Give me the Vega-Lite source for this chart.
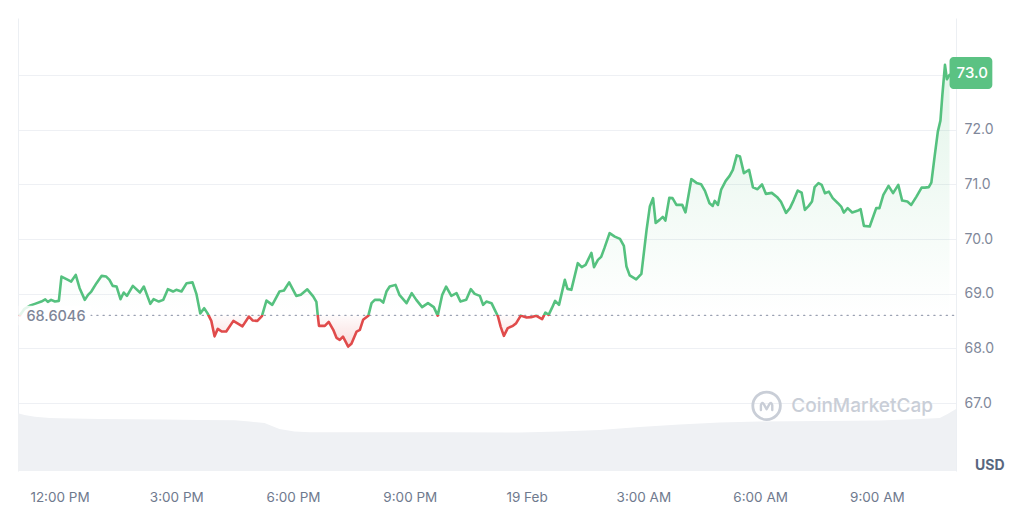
{
"$schema":"https://vega.github.io/schema/vega-lite/v6.json",
"width":938,"height":453,
"autosize":{"type":"none"},
"padding":{"left":18,"top":18,"right":68,"bottom":50},
"background":"white",
"config":{"view":{"stroke":null},"font":"Inter"},
"datasets":{
"price":[
{"t":"2024-02-18T10:59","p":68.605},{"t":"2024-02-18T11:06","p":68.724},{"t":"2024-02-18T11:14","p":68.779},{"t":"2024-02-18T11:22","p":68.815},{"t":"2024-02-18T11:32","p":68.857},{"t":"2024-02-18T11:38","p":68.897},{"t":"2024-02-18T11:42","p":68.852},{"t":"2024-02-18T11:47","p":68.888},{"t":"2024-02-18T11:53","p":68.857},{"t":"2024-02-18T11:59","p":68.870},
{"t":"2024-02-18T12:03","p":69.314},{"t":"2024-02-18T12:13","p":69.254},{"t":"2024-02-18T12:18","p":69.223},{"t":"2024-02-18T12:25","p":69.345},{"t":"2024-02-18T12:31","p":69.102},{"t":"2024-02-18T12:39","p":68.888},{"t":"2024-02-18T12:44","p":68.980},{"t":"2024-02-18T12:49","p":69.040},{"t":"2024-02-18T12:57","p":69.193},{"t":"2024-02-18T13:05","p":69.327},
{"t":"2024-02-18T13:12","p":69.314},{"t":"2024-02-18T13:17","p":69.254},{"t":"2024-02-18T13:22","p":69.144},{"t":"2024-02-18T13:28","p":69.131},{"t":"2024-02-18T13:34","p":68.901},{"t":"2024-02-18T13:39","p":69.022},{"t":"2024-02-18T13:44","p":68.961},{"t":"2024-02-18T13:53","p":69.144},{"t":"2024-02-18T14:04","p":69.022},{"t":"2024-02-18T14:10","p":69.131},
{"t":"2024-02-18T14:20","p":68.815},{"t":"2024-02-18T14:25","p":68.901},{"t":"2024-02-18T14:33","p":68.857},{"t":"2024-02-18T14:40","p":68.888},{"t":"2024-02-18T14:47","p":69.084},{"t":"2024-02-18T14:55","p":69.040},{"t":"2024-02-18T15:00","p":69.071},{"t":"2024-02-18T15:08","p":69.040},{"t":"2024-02-18T15:16","p":69.193},{"t":"2024-02-18T15:25","p":69.208},
{"t":"2024-02-18T15:31","p":68.998},{"t":"2024-02-18T15:37","p":68.641},{"t":"2024-02-18T15:43","p":68.736},{"t":"2024-02-18T15:48","p":68.645},{"t":"2024-02-18T15:54","p":68.504},{"t":"2024-02-18T15:59","p":68.221},{"t":"2024-02-18T16:04","p":68.358},{"t":"2024-02-18T16:10","p":68.309},{"t":"2024-02-18T16:17","p":68.309},{"t":"2024-02-18T16:28","p":68.504},
{"t":"2024-02-18T16:42","p":68.404},{"t":"2024-02-18T16:52","p":68.583},{"t":"2024-02-18T16:58","p":68.510},{"t":"2024-02-18T17:05","p":68.504},{"t":"2024-02-18T17:12","p":68.590},{"t":"2024-02-18T17:19","p":68.875},{"t":"2024-02-18T17:28","p":68.797},{"t":"2024-02-18T17:39","p":69.040},{"t":"2024-02-18T17:46","p":69.058},{"t":"2024-02-18T17:54","p":69.208},
{"t":"2024-02-18T18:05","p":68.961},{"t":"2024-02-18T18:12","p":68.980},{"t":"2024-02-18T18:22","p":69.080},{"t":"2024-02-18T18:31","p":68.952},{"t":"2024-02-18T18:36","p":68.852},{"t":"2024-02-18T18:38","p":68.614},{"t":"2024-02-18T18:40","p":68.413},{"t":"2024-02-18T18:49","p":68.413},{"t":"2024-02-18T18:55","p":68.486},{"t":"2024-02-18T19:02","p":68.340},
{"t":"2024-02-18T19:07","p":68.194},{"t":"2024-02-18T19:12","p":68.157},{"t":"2024-02-18T19:17","p":68.217},{"t":"2024-02-18T19:25","p":68.035},{"t":"2024-02-18T19:30","p":68.084},{"t":"2024-02-18T19:38","p":68.309},{"t":"2024-02-18T19:43","p":68.340},{"t":"2024-02-18T19:48","p":68.523},{"t":"2024-02-18T19:56","p":68.596},{"t":"2024-02-18T20:01","p":68.828},
{"t":"2024-02-18T20:06","p":68.888},{"t":"2024-02-18T20:14","p":68.888},{"t":"2024-02-18T20:19","p":68.839},{"t":"2024-02-18T20:24","p":69.040},{"t":"2024-02-18T20:29","p":69.131},{"t":"2024-02-18T20:38","p":69.162},{"t":"2024-02-18T20:44","p":68.980},{"t":"2024-02-18T20:55","p":68.828},{"t":"2024-02-18T21:03","p":69.011},{"t":"2024-02-18T21:10","p":68.888},
{"t":"2024-02-18T21:19","p":68.755},{"t":"2024-02-18T21:28","p":68.828},{"t":"2024-02-18T21:37","p":68.755},{"t":"2024-02-18T21:43","p":68.600},{"t":"2024-02-18T21:50","p":68.980},{"t":"2024-02-18T21:56","p":69.131},{"t":"2024-02-18T22:04","p":68.961},{"t":"2024-02-18T22:12","p":69.011},{"t":"2024-02-18T22:18","p":68.857},{"t":"2024-02-18T22:27","p":68.888},
{"t":"2024-02-18T22:34","p":69.084},{"t":"2024-02-18T22:40","p":68.998},{"t":"2024-02-18T22:48","p":68.961},{"t":"2024-02-18T22:53","p":68.797},{"t":"2024-02-18T22:58","p":68.857},{"t":"2024-02-18T23:06","p":68.828},{"t":"2024-02-18T23:11","p":68.705},{"t":"2024-02-18T23:16","p":68.583},{"t":"2024-02-18T23:20","p":68.400},{"t":"2024-02-18T23:25","p":68.230},
{"t":"2024-02-18T23:31","p":68.371},{"t":"2024-02-18T23:39","p":68.413},{"t":"2024-02-18T23:44","p":68.462},{"t":"2024-02-18T23:51","p":68.600},{"t":"2024-02-19T00:00","p":68.565},{"t":"2024-02-19T00:07","p":68.572},{"t":"2024-02-19T00:15","p":68.596},{"t":"2024-02-19T00:24","p":68.535},{"t":"2024-02-19T00:29","p":68.656},{"t":"2024-02-19T00:34","p":68.614},
{"t":"2024-02-19T00:39","p":68.736},{"t":"2024-02-19T00:44","p":68.870},{"t":"2024-02-19T00:50","p":68.797},{"t":"2024-02-19T00:59","p":69.254},{"t":"2024-02-19T01:03","p":69.089},{"t":"2024-02-19T01:09","p":69.071},{"t":"2024-02-19T01:19","p":69.559},{"t":"2024-02-19T01:25","p":69.486},{"t":"2024-02-19T01:31","p":69.528},{"t":"2024-02-19T01:40","p":69.747},
{"t":"2024-02-19T01:44","p":69.486},{"t":"2024-02-19T01:50","p":69.619},{"t":"2024-02-19T01:55","p":69.674},{"t":"2024-02-19T02:00","p":69.833},{"t":"2024-02-19T02:08","p":70.107},{"t":"2024-02-19T02:16","p":70.045},{"t":"2024-02-19T02:24","p":70.003},{"t":"2024-02-19T02:30","p":69.875},{"t":"2024-02-19T02:34","p":69.497},{"t":"2024-02-19T02:39","p":69.336},
{"t":"2024-02-19T02:49","p":69.263},{"t":"2024-02-19T02:57","p":69.363},{"t":"2024-02-19T03:05","p":70.167},{"t":"2024-02-19T03:10","p":70.593},{"t":"2024-02-19T03:15","p":70.747},{"t":"2024-02-19T03:19","p":70.295},{"t":"2024-02-19T03:25","p":70.350},{"t":"2024-02-19T03:30","p":70.405},{"t":"2024-02-19T03:34","p":70.337},{"t":"2024-02-19T03:40","p":70.752},
{"t":"2024-02-19T03:45","p":70.747},{"t":"2024-02-19T03:51","p":70.624},{"t":"2024-02-19T04:00","p":70.624},{"t":"2024-02-19T04:05","p":70.487},{"t":"2024-02-19T04:14","p":71.094},{"t":"2024-02-19T04:22","p":71.026},{"t":"2024-02-19T04:29","p":71.003},{"t":"2024-02-19T04:35","p":70.880},{"t":"2024-02-19T04:42","p":70.655},{"t":"2024-02-19T04:47","p":70.606},
{"t":"2024-02-19T04:50","p":70.697},{"t":"2024-02-19T04:55","p":70.624},{"t":"2024-02-19T05:00","p":70.904},{"t":"2024-02-19T05:07","p":71.063},{"t":"2024-02-19T05:13","p":71.154},{"t":"2024-02-19T05:18","p":71.264},{"t":"2024-02-19T05:24","p":71.529},{"t":"2024-02-19T05:29","p":71.507},{"t":"2024-02-19T05:35","p":71.204},{"t":"2024-02-19T05:43","p":71.264},
{"t":"2024-02-19T05:49","p":70.944},{"t":"2024-02-19T05:56","p":70.911},{"t":"2024-02-19T06:03","p":70.997},{"t":"2024-02-19T06:09","p":70.825},{"t":"2024-02-19T06:18","p":70.844},{"t":"2024-02-19T06:26","p":70.770},{"t":"2024-02-19T06:32","p":70.685},{"t":"2024-02-19T06:40","p":70.478},{"t":"2024-02-19T06:46","p":70.564},{"t":"2024-02-19T06:52","p":70.716},
{"t":"2024-02-19T06:58","p":70.886},{"t":"2024-02-19T07:04","p":70.849},{"t":"2024-02-19T07:09","p":70.533},{"t":"2024-02-19T07:15","p":70.606},{"t":"2024-02-19T07:20","p":70.685},{"t":"2024-02-19T07:24","p":70.948},{"t":"2024-02-19T07:30","p":71.021},{"t":"2024-02-19T07:35","p":70.990},{"t":"2024-02-19T07:40","p":70.838},{"t":"2024-02-19T07:46","p":70.867},
{"t":"2024-02-19T07:52","p":70.747},{"t":"2024-02-19T08:00","p":70.655},{"t":"2024-02-19T08:05","p":70.593},{"t":"2024-02-19T08:09","p":70.484},{"t":"2024-02-19T08:15","p":70.564},{"t":"2024-02-19T08:22","p":70.484},{"t":"2024-02-19T08:30","p":70.515},{"t":"2024-02-19T08:35","p":70.546},{"t":"2024-02-19T08:40","p":70.241},{"t":"2024-02-19T08:49","p":70.228},
{"t":"2024-02-19T08:59","p":70.564},{"t":"2024-02-19T09:04","p":70.564},{"t":"2024-02-19T09:10","p":70.807},{"t":"2024-02-19T09:18","p":70.971},{"t":"2024-02-19T09:25","p":70.838},{"t":"2024-02-19T09:33","p":70.990},{"t":"2024-02-19T09:39","p":70.703},{"t":"2024-02-19T09:47","p":70.685},{"t":"2024-02-19T09:53","p":70.624},{"t":"2024-02-19T10:01","p":70.776},
{"t":"2024-02-19T10:09","p":70.940},{"t":"2024-02-19T10:14","p":70.940},{"t":"2024-02-19T10:20","p":70.948},{"t":"2024-02-19T10:24","p":71.032},{"t":"2024-02-19T10:29","p":71.507},{"t":"2024-02-19T10:34","p":71.964},{"t":"2024-02-19T10:38","p":72.165},{"t":"2024-02-19T10:41","p":72.635},{"t":"2024-02-19T10:45","p":73.183},{"t":"2024-02-19T10:48","p":72.920},
{"t":"2024-02-19T10:52","p":73.000}
],
"volume":[
{"t":"2024-02-18T10:56","v":127.4},{"t":"2024-02-18T11:06","v":123.6},{"t":"2024-02-18T11:22","v":119.9},{"t":"2024-02-18T11:45","v":117.0},{"t":"2024-02-18T12:00","v":116.4},{"t":"2024-02-18T13:02","v":114.8},{"t":"2024-02-18T14:42","v":113.7},{"t":"2024-02-18T15:36","v":112.6},{"t":"2024-02-18T16:30","v":111.9},{"t":"2024-02-18T16:53","v":109.3},
{"t":"2024-02-18T17:16","v":106.0},{"t":"2024-02-18T17:39","v":92.7},{"t":"2024-02-18T18:02","v":87.2},{"t":"2024-02-18T18:26","v":85.4},{"t":"2024-02-18T19:43","v":85.4},{"t":"2024-02-18T22:01","v":85.4},{"t":"2024-02-18T23:49","v":85.0},{"t":"2024-02-19T00:51","v":87.2},{"t":"2024-02-19T01:53","v":90.5},{"t":"2024-02-19T02:54","v":97.2},
{"t":"2024-02-19T03:56","v":102.7},{"t":"2024-02-19T04:58","v":107.1},{"t":"2024-02-19T05:59","v":109.3},{"t":"2024-02-19T07:32","v":110.4},{"t":"2024-02-19T09:04","v":111.5},{"t":"2024-02-19T10:06","v":114.8},{"t":"2024-02-19T10:37","v":117.0},{"t":"2024-02-19T10:49","v":125.9},{"t":"2024-02-19T11:02","v":136.9}
],
"one":[{}]
},
"layer":[
{
"data":{"name":"volume"},
"mark":{"type":"area","color":"#eff1f4","opacity":1},
"encoding":{
"x":{"field":"t","type":"temporal","scale":{"domain":[{"year":2024,"month":2,"date":18,"hours":10,"minutes":56},{"year":2024,"month":2,"date":19,"hours":11,"minutes":2}]},
"axis":{"title":null,"values":[{"year":2024,"month":2,"date":18,"hours":12},{"year":2024,"month":2,"date":18,"hours":15},{"year":2024,"month":2,"date":18,"hours":18},{"year":2024,"month":2,"date":18,"hours":21},{"year":2024,"month":2,"date":19,"hours":0},{"year":2024,"month":2,"date":19,"hours":3},{"year":2024,"month":2,"date":19,"hours":6},{"year":2024,"month":2,"date":19,"hours":9}],
"labelExpr":"hours(datum.value) == 0 ? timeFormat(datum.value, '%d %b') : timeFormat(datum.value, '%-I:%M %p')",
"orient":"bottom","domain":false,"ticks":false,"grid":false,"labelFontSize":13.5,"labelColor":"#6f7a8e","labelPadding":19,"labelOverlap":false,"labelFlush":false}},
"y":{"field":"v","type":"quantitative","scale":{"domain":[0,1000],"nice":false},
"axis":{"orient":"left","labels":false,"ticks":false,"grid":false,"domain":true,"domainColor":"#eceff3","title":null}}
}
},
{
"layer":[
{
"data":{"name":"price"},
"mark":{"type":"area","opacity":1,"fill":{"gradient":"linear","x1":0,"y1":0,"x2":0,"y2":1,"stops":[{"offset":0,"color":"rgba(85,193,127,0.17)"},{"offset":0.8894,"color":"rgba(85,193,127,0.0)"},{"offset":0.8894,"color":"rgba(224,75,75,0.02)"},{"offset":1,"color":"rgba(224,75,75,0.2)"}]}},
"encoding":{
"x":{"field":"t","type":"temporal","scale":{"domain":[{"year":2024,"month":2,"date":18,"hours":10,"minutes":56},{"year":2024,"month":2,"date":19,"hours":11,"minutes":2}]},"axis":{"title":null}},
"y":{"field":"p","type":"quantitative","scale":{"domain":[65.76,74.04],"nice":false,"zero":false},
"axis":{"orient":"right","values":[67,68,69,70,71,72,73],"labelExpr":"datum.value == 73 ? '' : format(datum.value, '.1f')","grid":true,"gridColor":"#eef0f4","ticks":false,"domain":true,"domainColor":"#eceff3","labelPadding":8,"labelFontSize":14,"labelColor":"#7f889a","title":null}},
"y2":{"datum":68.6046}
}
},
{
"data":{"name":"one"},
"mark":{"type":"rule","color":"#9aa1b2","strokeDash":[1.2,5],"strokeWidth":1.4,"strokeCap":"round"},
"encoding":{
"x":{"datum":{"year":2024,"month":2,"date":18,"hours":12,"minutes":48},"type":"temporal","axis":{"title":null}},
"x2":{"datum":{"year":2024,"month":2,"date":19,"hours":11,"minutes":2}},
"y":{"datum":68.6046,"type":"quantitative","axis":{"title":null}}
}
},
{
"data":{"name":"price"},
"mark":{"type":"line","strokeWidth":2.6,"strokeJoin":"round","strokeCap":"round","stroke":{"gradient":"linear","x1":0,"y1":0,"x2":0,"y2":1,"stops":[{"offset":0,"color":"#55c17f"},{"offset":0.8894,"color":"#55c17f"},{"offset":0.8894,"color":"#e04b4b"},{"offset":1,"color":"#e04b4b"}]}},
"encoding":{
"x":{"field":"t","type":"temporal","axis":{"title":null}},
"y":{"field":"p","type":"quantitative","axis":{"title":null}}
}
},
{
"data":{"name":"one"},
"mark":{"type":"rect","fill":"white","opacity":0.85},
"encoding":{
"x":{"datum":{"year":2024,"month":2,"date":18,"hours":10,"minutes":57},"type":"temporal","axis":{"title":null}},
"x2":{"datum":{"year":2024,"month":2,"date":18,"hours":12,"minutes":48}},
"y":{"datum":68.42,"type":"quantitative","axis":{"title":null}},
"y2":{"datum":68.78}
}
},
{
"data":{"name":"one"},
"mark":{"type":"text","text":"68.6046","align":"left","baseline":"middle","dy":2,"fontSize":14.5,"fontWeight":500,"color":"#7e8698"},
"encoding":{
"x":{"datum":{"year":2024,"month":2,"date":18,"hours":11,"minutes":9},"type":"temporal","axis":{"title":null}},
"y":{"datum":68.6046,"type":"quantitative","axis":{"title":null}}
}
},
{
"data":{"name":"one"},
"mark":{"type":"rect","fill":"#5bc283","cornerRadius":4},
"encoding":{
"x":{"datum":{"year":2024,"month":2,"date":19,"hours":10,"minutes":52},"type":"temporal","axis":{"title":null}},
"x2":{"datum":{"year":2024,"month":2,"date":19,"hours":11,"minutes":58}},
"y":{"datum":73.329,"type":"quantitative","axis":{"title":null}},
"y2":{"datum":72.744}
}
},
{
"data":{"name":"one"},
"mark":{"type":"text","text":"73.0","align":"center","baseline":"middle","fontSize":15,"fontWeight":500,"color":"white"},
"encoding":{
"x":{"datum":{"year":2024,"month":2,"date":19,"hours":11,"minutes":27},"type":"temporal","axis":{"title":null}},
"y":{"datum":73.03,"type":"quantitative","axis":{"title":null}}
}
},
{
"data":{"name":"one"},
"mark":{"type":"text","text":"USD","align":"center","baseline":"middle","fontSize":14,"fontWeight":"bold","color":"#58667e"},
"encoding":{
"x":{"datum":{"year":2024,"month":2,"date":19,"hours":11,"minutes":54},"type":"temporal","axis":{"title":null}},
"y":{"datum":65.855,"type":"quantitative","axis":{"title":null}}
}
},
{
"data":{"name":"one"},
"mark":{"type":"point","shape":"circle","filled":false,"size":760,"strokeWidth":2.8,"color":"#c9ced7","opacity":1},
"encoding":{
"x":{"datum":{"year":2024,"month":2,"date":19,"hours":6,"minutes":10},"type":"temporal","axis":{"title":null}},
"y":{"datum":66.951,"type":"quantitative","axis":{"title":null}}
}
},
{
"data":{"name":"one"},
"mark":{"type":"point","shape":"M-0.75,0.55 L-0.75,-0.1 Q-0.6,-0.6 -0.35,-0.2 L0,0.45 L0.35,-0.2 Q0.6,-0.6 0.75,-0.1 L0.75,0.55","filled":false,"size":230,"strokeWidth":2.4,"strokeJoin":"round","strokeCap":"round","color":"#c9ced7","opacity":1},
"encoding":{
"x":{"datum":{"year":2024,"month":2,"date":19,"hours":6,"minutes":10},"type":"temporal","axis":{"title":null}},
"y":{"datum":66.951,"type":"quantitative","axis":{"title":null}}
}
},
{
"data":{"name":"one"},
"mark":{"type":"text","text":"CoinMarketCap","align":"left","baseline":"middle","fontSize":19,"fontWeight":500,"color":"#c9ced7"},
"encoding":{
"x":{"datum":{"year":2024,"month":2,"date":19,"hours":6,"minutes":48},"type":"temporal","axis":{"title":null}},
"y":{"datum":66.951,"type":"quantitative","axis":{"title":null}}
}
}
]
}
],
"resolve":{"scale":{"y":"independent"}}
}
